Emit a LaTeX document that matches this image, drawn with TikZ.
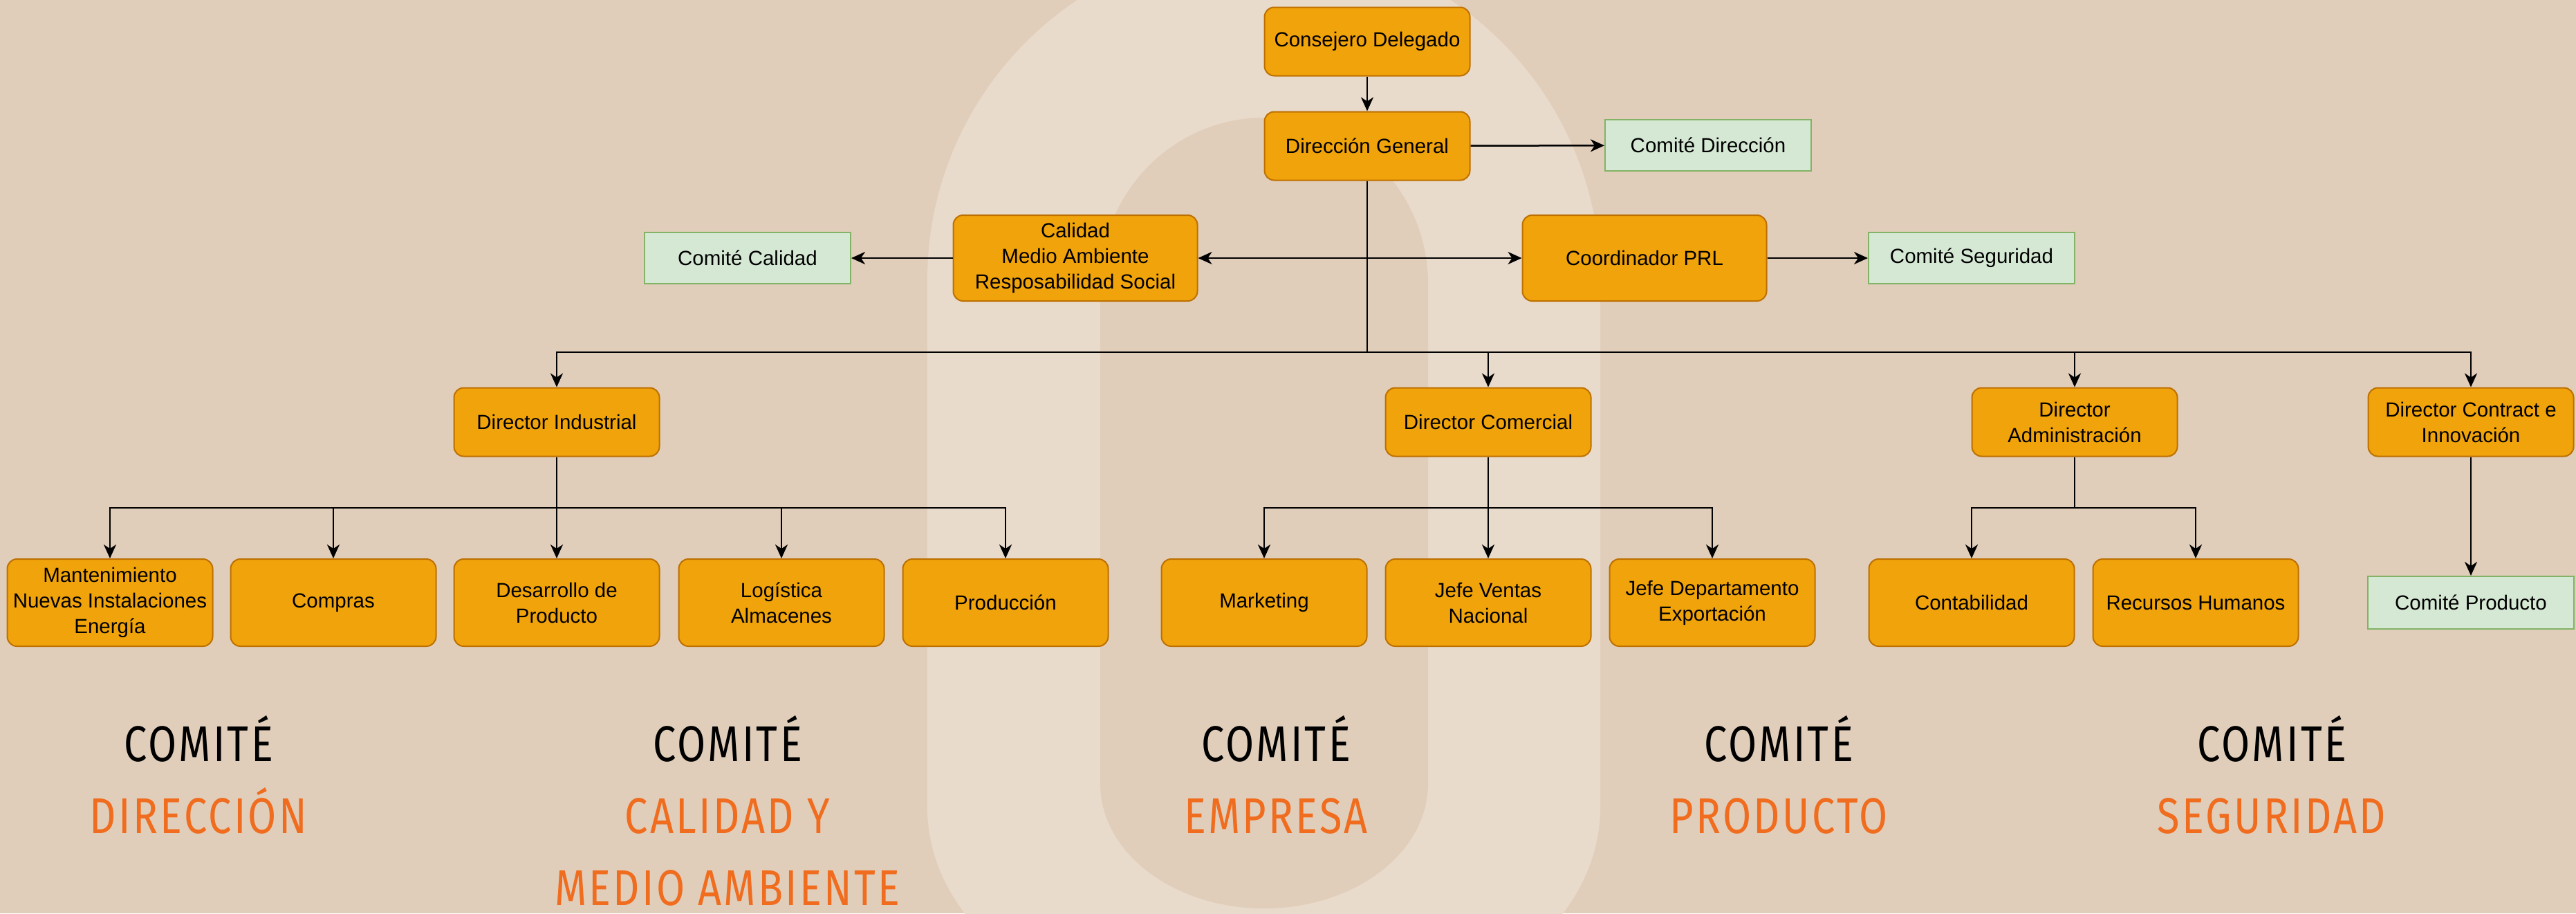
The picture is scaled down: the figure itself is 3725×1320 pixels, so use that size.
\documentclass[tikz,border=0pt]{standalone}
\usepackage{fontspec}
\setmainfont{Liberation Sans}
\newfontfamily\rotulo[FakeStretch=0.82,LetterSpace=4.5]{Fira Sans}
\usetikzlibrary{arrows.meta}

\definecolor{fondo}{RGB}{225,206,186}
\definecolor{anillo}{RGB}{233,219,204}
\definecolor{naranja}{HTML}{F0A30A}
\definecolor{naranjaborde}{HTML}{BD7000}
\definecolor{verde}{HTML}{D5E8D4}
\definecolor{verdeborde}{HTML}{82B366}
\definecolor{titulo}{RGB}{240,108,30}

\tikzset{
	puesto/.style={draw=naranjaborde,fill=naranja,line width=2pt,rounded corners=14pt,align=center,
		minimum width=297pt,minimum height=99pt,inner sep=0pt,font=\fontsize{29.5}{37}\selectfont},
	area/.style={puesto,minimum height=126pt},
	comite/.style={draw=verdeborde,fill=verde,line width=2pt,minimum width=298pt,minimum height=74pt,
		inner sep=0pt,font=\fontsize{29.5}{37}\selectfont},
	linea/.style={line width=2.5pt},
	flecha/.style={line width=2.5pt,-{Stealth[length=20pt,width=18pt,inset=6pt]}},
	doble/.style={line width=2.5pt,{Stealth[length=20pt,width=18pt,inset=6pt]}-{Stealth[length=20pt,width=18pt,inset=6pt]}},
	cab/.style={font=\rotulo\fontsize{72.6}{80}\selectfont,anchor=base,inner sep=0pt},
}

\begin{document}
\begin{tikzpicture}[x=1pt,y=1pt]
	\useasboundingbox (0,0) rectangle (3725,-1320);
	\clip (0,0) rectangle (3725,-1320);
	\fill[fondo] (0,0) rectangle (3725,-1320);
	% logo de fondo
	\fill[anillo] (1341,-1167) -- (1341,-405) arc[start angle=180,end angle=0,radius=486.5]
		-- (2314,-1167) arc[start angle=0,end angle=-180,x radius=486.5,y radius=334] -- cycle;
	\fill[fondo] (1591,-1133) -- (1591,-410) arc[start angle=180,end angle=0,x radius=237,y radius=240]
		-- (2065,-1133) arc[start angle=0,end angle=-180,x radius=237,y radius=180] -- cycle;

	\node[puesto] (consejero) at (1977,-60) {Consejero Delegado};
	\node[puesto] (general) at (1977,-211) {Dirección General};
	\node[comite] (cdir) at (2470,-210) {Comité Dirección};
	\node[puesto,minimum width=353pt,minimum height=124pt] (calidad) at (1555,-373) {Calidad\\Medio Ambiente\\Resposabilidad Social};
	\node[puesto,minimum width=353pt,minimum height=124pt] (prl) at (2378,-373) {Coordinador PRL};
	\node[comite] (ccal) at (1081,-373) {Comité Calidad};
	\node[comite] (cseg) at (2851,-373) {Comité Seguridad};

	\node[puesto] (industrial) at (805,-610) {Director Industrial};
	\node[puesto] (comercial) at (2152,-610) {Director Comercial};
	\node[puesto] (admin) at (3000,-610) {Director\\Administración};
	\node[puesto] (contract) at (3573,-610) {Director Contract e\\Innovación};

	\node[area] (mant) at (159,-871) {Mantenimiento\\Nuevas Instalaciones\\Energía};
	\node[area] (compras) at (482,-871) {Compras};
	\node[area] (desarrollo) at (805,-871) {Desarrollo de\\Producto};
	\node[area] (logistica) at (1130,-871) {Logística\\Almacenes};
	\node[area] (produccion) at (1454,-871) {Producción};
	\node[area] (marketing) at (1828,-871) {Marketing};
	\node[area] (ventas) at (2152,-871) {Jefe Ventas\\Nacional};
	\node[area] (export) at (2476,-871) {Jefe Departamento\\Exportación};
	\node[area] (contab) at (2851,-871) {Contabilidad};
	\node[area] (rrhh) at (3175,-871) {Recursos Humanos};
	\node[comite,minimum height=76pt] (cprod) at (3573,-871) {Comité Producto};

	\draw[flecha] (consejero) -- (general);
	\draw[flecha] (general) -- (cdir);
	\draw[doble] (calidad) -- (prl);
	\draw[flecha] (calidad) -- (ccal);
	\draw[flecha] (prl) -- (cseg);

	\coordinate (bus) at (1977,-509);
	\draw[linea] (general) -- (bus);
	\foreach \n in {industrial,comercial,admin,contract}
		\draw[flecha] (bus) -| (\n.north);

	\coordinate (bi) at (805,-734);
	\draw[linea] (industrial) -- (bi);
	\foreach \n in {mant,compras,desarrollo,logistica,produccion}
		\draw[flecha] (bi) -| (\n.north);

	\coordinate (bc) at (2152,-734);
	\draw[linea] (comercial) -- (bc);
	\foreach \n in {marketing,ventas,export}
		\draw[flecha] (bc) -| (\n.north);

	\coordinate (ba) at (3000,-734);
	\draw[linea] (admin) -- (ba);
	\foreach \n in {contab,rrhh}
		\draw[flecha] (ba) -| (\n.north);

	\draw[flecha] (contract) -- (cprod);

	\foreach \x/\n/\t in {287/dir/DIRECCIÓN,1052/cal/CALIDAD Y,1845/emp/EMPRESA,2572/prod/PRODUCTO,3285/seg/SEGURIDAD}{
		\node[cab] (c\n) at (\x,-1100) {COMITÉ};
		\node[cab,text=titulo] (t\n) at (\x,-1204) {\t};
	}
	\node[cab,text=titulo] (tcal2) at (1052,-1308) {MEDIO AMBIENTE};
\end{tikzpicture}
\end{document}
